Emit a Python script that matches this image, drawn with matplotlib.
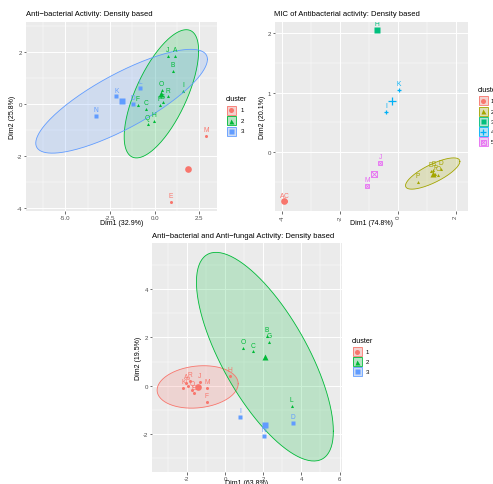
import numpy as np
import matplotlib
matplotlib.use("Agg")
import matplotlib.pyplot as plt
from matplotlib.patches import Rectangle

plt.rcParams['font.family'] = ['Liberation Sans', 'DejaVu Sans']
plt.rcParams['axes.unicode_minus'] = False

# ---- data: panel 1 (anti-bacterial)
p1_labels = ['A', 'B', 'C', 'D', 'E', 'F', 'G', 'H', 'I', 'J', 'K', 'L', 'M', 'N', 'O', 'P', 'Q', 'R']
p1_x = [1.15, 1.03, -0.50, -1.20, 0.90, -0.94, 0.45, -0.02, 1.59, 0.73, -2.15, -0.80, 2.86, -3.27, 0.39, 0.28, -0.39, 0.73]
p1_y = [1.85, 1.26, -0.18, 0.00, -3.74, -0.05, 0.06, -0.65, 0.51, 1.85, 0.29, 0.60, -1.24, -0.47, 0.55, -0.04, -0.78, 0.29]
p1_cluster = [2, 2, 2, 3, 1, 2, 2, 2, 2, 2, 3, 3, 1, 3, 2, 2, 2, 2]

# ---- data: panel 2 (MIC)
p2_labels = ['A', 'C', 'B', 'D', 'E', 'F', 'O', 'P', 'H', 'I', 'K', 'J', 'M']
p2_x = [-3.99, -3.86, 1.23, 1.48, 1.14, 1.30, 1.40, 0.70, -0.71, -0.40, 0.03, -0.61, -1.05]
p2_y = [-0.82, -0.82, -0.30, -0.28, -0.31, -0.36, -0.38, -0.49, 2.04, 0.67, 1.05, -0.17, -0.56]
p2_cluster = [1, 1, 2, 2, 2, 2, 2, 2, 3, 4, 4, 5, 5]

# ---- data: panel 3 (anti-bacterial and anti-fungal)
p3_labels = ['A', 'E', 'F', 'H', 'J', 'K', 'M', 'P', 'Q', 'R', 'B', 'C', 'G', 'L', 'O', 'D', 'I', 'N']
p3_x = [-2.04, -1.62, -0.94, 0.24, -1.33, -2.18, -0.93, -1.94, -1.72, -1.83, 2.20, 1.48, 2.32, 3.50, 0.96, 3.54, 0.80, 2.02]
p3_y = [0.12, -0.32, -0.68, 0.39, 0.15, -0.08, -0.11, 0.00, -0.18, 0.20, 2.05, 1.42, 1.80, -0.83, 1.58, -1.56, -1.30, -2.09]
p3_cluster = [1, 1, 1, 1, 1, 1, 1, 1, 1, 1, 2, 2, 2, 2, 2, 3, 3, 3]

hue3 = ['#F8766D', '#00BA38', '#619CFF']
hue5 = ['#F8766D', '#A3A500', '#00BF7D', '#00B0F6', '#E76BF3']
shapes = ['o', '^', 's', '+', 'boxx']

W, H = 493, 485
fig = plt.figure(figsize=(W / 100, H / 100), dpi=100)


def px(x, y):
    return x / W, 1 - y / H


def norm_ellipse(x, y, level=0.95):
    # same as ggplot2 stat_ellipse(type = "norm")
    pts = np.column_stack([x, y])
    n = len(pts)
    center = pts.mean(axis=0)
    cov = np.cov(pts, rowvar=False)
    chol = np.linalg.cholesky(cov).T
    d = n - 1
    qf = d / 2 * ((1 - level) ** (-2 / d) - 1)   # F(2, d) quantile
    radius = np.sqrt(2 * qf)
    ang = np.linspace(0, 2 * np.pi, 200)
    circle = np.column_stack([np.cos(ang), np.sin(ang)])
    return center + radius * circle @ chol


def draw_marker(ax, x, y, shape, color, size):
    if shape == 'boxx':
        ax.plot(x, y, 's', ms=size, mfc='none', mec=color, mew=0.6, ls='none')
        ax.plot(x, y, 'x', ms=size * 0.8, color=color, mew=0.6, ls='none')
    elif shape == '+':
        ax.plot(x, y, '+', ms=size * 1.1, color=color, mew=0.9, ls='none')
    else:
        ax.plot(x, y, shape, ms=size, color=color, mec='none', ls='none')


def panel(rect, xs, ys, labs, cl, colors, xlim, ylim, xt, xtl, yt, xminor, yminor, xrot=0):
    l, r, t, b = rect
    ax = fig.add_axes([l / W, 1 - b / H, (r - l) / W, (b - t) / H])
    ax.set_facecolor('#EBEBEB')
    for s in ax.spines.values():
        s.set_visible(False)
    for v in xminor:
        ax.axvline(v, color='white', lw=0.35, zorder=0)
    for v in yminor:
        ax.axhline(v, color='white', lw=0.35, zorder=0)
    for v in xt:
        ax.axvline(v, color='white', lw=0.7, zorder=0)
    for v in yt:
        ax.axhline(v, color='white', lw=0.7, zorder=0)
    xs = np.array(xs)
    ys = np.array(ys)
    cl = np.array(cl)
    for k in range(1, len(colors) + 1):
        m = cl == k
        c = colors[k - 1]
        if m.sum() > 3:
            e = norm_ellipse(xs[m], ys[m])
            ax.fill(e[:, 0], e[:, 1], color=c, alpha=0.2, lw=0, zorder=1)
            ax.plot(e[:, 0], e[:, 1], color=c, lw=0.6, zorder=2)
        draw_marker(ax, xs[m], ys[m], shapes[k - 1], c, 2.2)
        draw_marker(ax, [xs[m].mean()], [ys[m].mean()], shapes[k - 1], c, 4.8)
    for x, y, s, k in zip(xs, ys, labs, cl):
        ax.annotate(s, (x, y), xytext=(0, 4.6), textcoords='offset points', ha='center',
                    va='center', fontsize=4.8, color=colors[k - 1], clip_on=True,
                    annotation_clip=True)
    ax.set_xlim(xlim)
    ax.set_ylim(ylim)
    ax.set_xticks(xt)
    ax.set_xticklabels(xtl, rotation=xrot)
    ax.set_yticks(yt)
    ax.tick_params(length=1.8, width=0.5, color='#333333', labelsize=4.4,
                   labelcolor='#4D4D4D', pad=1.0)
    return ax


def legend(x0, ytitle, ycenters, labels_x, colors):
    fig.text(*px(x0, ytitle), 'cluster', fontsize=5.2, va='center', ha='left')
    ov = fig.add_axes([0, 0, 1, 1], facecolor='none')
    ov.set_xlim(0, W)
    ov.set_ylim(H, 0)
    ov.axis('off')
    for i, yc in enumerate(ycenters):
        c = colors[i]
        ov.add_patch(Rectangle((x0 + 0.5, yc - 4.5), 9.5, 9, facecolor='#F2F2F2', edgecolor='none'))
        ov.add_patch(Rectangle((x0 + 0.5, yc - 4.5), 9.5, 9, facecolor=c, alpha=0.25, edgecolor='none'))
        ov.add_patch(Rectangle((x0 + 0.5, yc - 4.5), 9.5, 9, facecolor='none', edgecolor=c, lw=0.6))
        draw_marker(ov, [x0 + 5.25], [yc], shapes[i], c, 3.6)
        fig.text(*px(labels_x, yc), str(i + 1), fontsize=4.4, va='center', ha='left')


# panel 1
panel((26, 217, 23, 212), p1_x, p1_y, p1_labels, p1_cluster, hue3,
      (-7.21, 3.49), (-4.1, 3.14), [-5, -2.5, 0, 2.5], ['-5.0', '-2.5', '0.0', '2.5'],
      [-4, -2, 0, 2], [-6.25, -3.75, -1.25, 1.25], [-3, -1, 1, 3])
fig.text(*px(26, 15), 'Anti\u2212bacterial Activity: Density based', fontsize=5.5, va='center')
fig.text(*px(121.5, 223.5), 'Dim1 (32.9%)', fontsize=5.0, ha='center', va='center')
fig.text(*px(13, 117.5), 'Dim2 (25.8%)', fontsize=5.0, ha='center', va='center', rotation=90)
legend(226, 100, [111, 121.5, 132], 241, hue3)

# panel 2
panel((275, 468, 23, 212), p2_x, p2_y, p2_labels, p2_cluster, hue5,
      (-4.25, 2.43), (-0.98, 2.18), [-4, -2, 0, 2], ['-4', '-2', '0', '2'],
      [0, 1, 2], [-3, -1, 1], [-0.5, 0.5, 1.5], xrot=90)
fig.text(*px(274, 15), 'MIC of Antibacterial activity: Density based', fontsize=5.5, va='center')
fig.text(*px(371.5, 223.5), 'Dim1 (74.8%)', fontsize=5.0, ha='center', va='center')
fig.text(*px(263, 117.5), 'Dim2 (20.1%)', fontsize=5.0, ha='center', va='center', rotation=90)
legend(478, 90.7, [101.7, 112, 122.3, 132.6, 142.9], 491, hue5)

# panel 3
panel((152, 342, 244, 473), p3_x, p3_y, p3_labels, p3_cluster, hue3,
      (-3.82, 6.13), (-3.58, 5.92), [-2, 0, 2, 4, 6], ['-2', '0', '2', '4', '6'],
      [-2, 0, 2, 4], [-3, -1, 1, 3, 5], [-3, -1, 1, 3, 5])
fig.text(*px(152, 236), 'Anti\u2212bacterial and Anti\u2212fungal Activity: Density based',
         fontsize=5.5, va='center')
fig.text(*px(247, 483.5), 'Dim1 (63.8%)', fontsize=5.0, ha='center', va='center')
fig.text(*px(138, 358.5), 'Dim2 (19.5%)', fontsize=5.0, ha='center', va='center', rotation=90)
legend(352, 341.7, [352.7, 362.5, 372.3], 366, hue3)

fig.savefig('out.png', dpi=100)
